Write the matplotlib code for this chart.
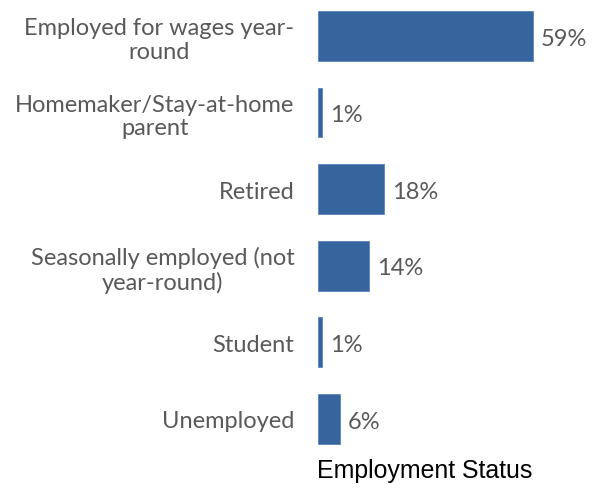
import matplotlib.pyplot as plt

categories = ["Employed for wages year-\nround", "Homemaker/Stay-at-home\nparent", "Retired",
              "Seasonally employed (not\nyear-round)", "Student", "Unemployed"]
values = [59, 1, 18, 14, 1, 6]
labels = ["59%", "1%", "18%", "14%", "1%", "6%"]

fig = plt.figure(figsize=(5.92, 4.89), dpi=100)
ax = fig.add_axes([318 / 592, 1 - 458 / 489, 274 / 592, 458 / 489])

ypos = list(range(len(categories)))
ax.barh(ypos, values, height=0.65, color="#36649C", edgecolor="#5A84BA", linewidth=0.6)
ax.set_xlim(0, 75.2)
ax.set_ylim(5.5, -0.483)

for y, v, lab in zip(ypos, values, labels):
    ax.text(v + 2.2, y + 0.03, lab, va="center", ha="left", fontsize=17,
            family="Lato", color="#595959")

ax.set_yticks(ypos)
ax.set_yticklabels(categories, fontsize=17, family="Lato", color="#595959",
                   ha="right", multialignment="center", linespacing=1.17)
ax.tick_params(axis="y", length=0, pad=17)
ax.set_xticks([])
for s in ax.spines.values():
    s.set_visible(False)

fig.text(317 / 592, 1 - 471 / 489, "Employment Status", fontsize=17.9,
         family="Liberation Sans", color="black", va="center", ha="left")

fig.savefig("out.png", dpi=100)
